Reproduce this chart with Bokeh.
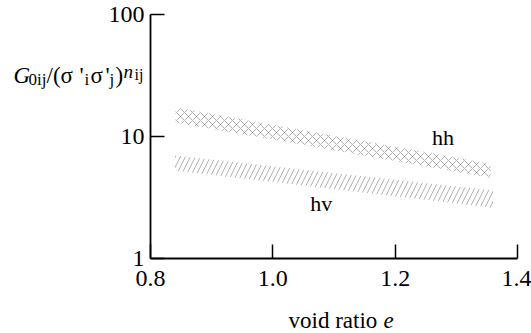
from bokeh.plotting import figure
from bokeh.models import (FixedTicker, Label, PrintfTickFormatter,
                          ColumnDataSource, LinearAxis, LogAxis)
from bokeh.embed import file_html
from bokeh.resources import INLINE

# ---- data ----
e_hh = [0.841, 1.356]
hh_upper = [17.3, 5.97]
hh_lower = [13.0, 4.58]

e_hv = [0.840, 1.360]
hv_upper = [6.98, 3.61]
hv_lower = [5.26, 2.61]

x_ticks = [0.8, 1.0, 1.2, 1.4]
y_ticks = [1, 10, 100]
y_tick_labels = {1: "1", 10: "10", 100: "100"}

hh_label_pos = (1.278, 9.86)
hv_label_pos = (1.079, 2.82)

X_AXIS = (0.8, 1.4)
Y_AXIS = (1, 100)

FONT = "Liberation Serif"
W, H = 531, 333

# axis box in canvas pixels (left, right, top, bottom)
L, R, T, B = 150, 517, 14, 258
kx = (R - L) / (X_AXIS[1] - X_AXIS[0])
dec = (B - T) / 2.0
x_range = (X_AXIS[0] - L / kx, X_AXIS[1] + (W - R) / kx)
y_range = (10 ** (0 - (H - B) / dec), 10 ** (2 + T / dec))

p = figure(width=W, height=H, x_range=x_range, y_range=y_range,
           y_axis_type="log", x_axis_location=None, y_axis_location=None,
           output_backend="svg", toolbar_location=None,
           min_border=0)
p.outline_line_color = None
p.background_fill_color = "white"
p.border_fill_color = "white"
p.xgrid.visible = False
p.ygrid.visible = False
p.grid.grid_line_color = None

hh = ColumnDataSource(dict(x=e_hh, y1=hh_lower, y2=hh_upper))
hv = ColumnDataSource(dict(x=e_hv, y1=hv_lower, y2=hv_upper))
p.varea(x="x", y1="y1", y2="y2", source=hh, fill_alpha=0,
        hatch_pattern="x", hatch_color="#7d7d7d", hatch_scale=8,
        hatch_weight=0.7, hatch_alpha=0.85)
p.varea(x="x", y1="y1", y2="y2", source=hv, fill_alpha=0,
        hatch_pattern="/", hatch_color="#8c8c8c", hatch_scale=10,
        hatch_weight=0.8, hatch_alpha=0.85)

xaxis = LinearAxis(fixed_location=Y_AXIS[0], bounds=X_AXIS,
                   ticker=FixedTicker(ticks=x_ticks),
                   formatter=PrintfTickFormatter(format="%.1f"))
yaxis = LogAxis(fixed_location=X_AXIS[0], bounds=Y_AXIS,
                ticker=FixedTicker(ticks=y_ticks))
yaxis.major_label_overrides = y_tick_labels
for ax in (xaxis, yaxis):
    ax.axis_line_width = 1.8
    ax.axis_line_color = "black"
    ax.major_tick_in = 14
    ax.major_tick_out = 0
    ax.major_tick_line_width = 1.5
    ax.minor_tick_line_color = None
    ax.major_label_text_font = FONT
    ax.major_label_text_font_size = "24px"
    ax.major_label_text_color = "black"
xaxis.major_label_standoff = 12
yaxis.major_label_standoff = 6
p.add_layout(xaxis, "below")
p.add_layout(yaxis, "left")

# band labels
for txt, (xx, yy) in (("hh", hh_label_pos), ("hv", hv_label_pos)):
    p.add_layout(Label(x=xx, y=yy, text=txt, text_font=FONT,
                       text_font_size="22px", text_align="center",
                       text_baseline="middle", text_color="black"))

# text pieces placed in canvas pixels (origin top-left); the renderer
# draws the alphabetic baseline about 7px below the given y
SHIFT = 7
def piece(x, base, text, size, style="normal"):
    p.add_layout(Label(x=x, y=base - SHIFT, x_units="canvas", y_units="canvas",
                       text=text, text_font=FONT,
                       text_font_size=size, text_font_style=style,
                       text_baseline="alphabetic", text_align="left",
                       text_color="black"))

MAIN, SUB = "23px", "17px"
base = 82
piece(13, base, "G", MAIN, "italic")
piece(28, base + 4, "0ij", SUB)
piece(46, base, "/(σ", MAIN)
piece(79, base, "'", MAIN)
piece(84, base + 4, "i", SUB)
piece(90, base, "σ", MAIN)
piece(105, base, "'", MAIN)
piece(109, base + 4, "j", SUB)
piece(115, base, ")", MAIN)
piece(123, base - 4, "n", "19px", "italic")
piece(134, base - 1, "ij", "16px")

# x-axis label
piece(288, 327, "void ratio ", "23px")
piece(383, 327, "e", "23px", "italic")

open("out.html", "w").write(file_html(p, INLINE))
